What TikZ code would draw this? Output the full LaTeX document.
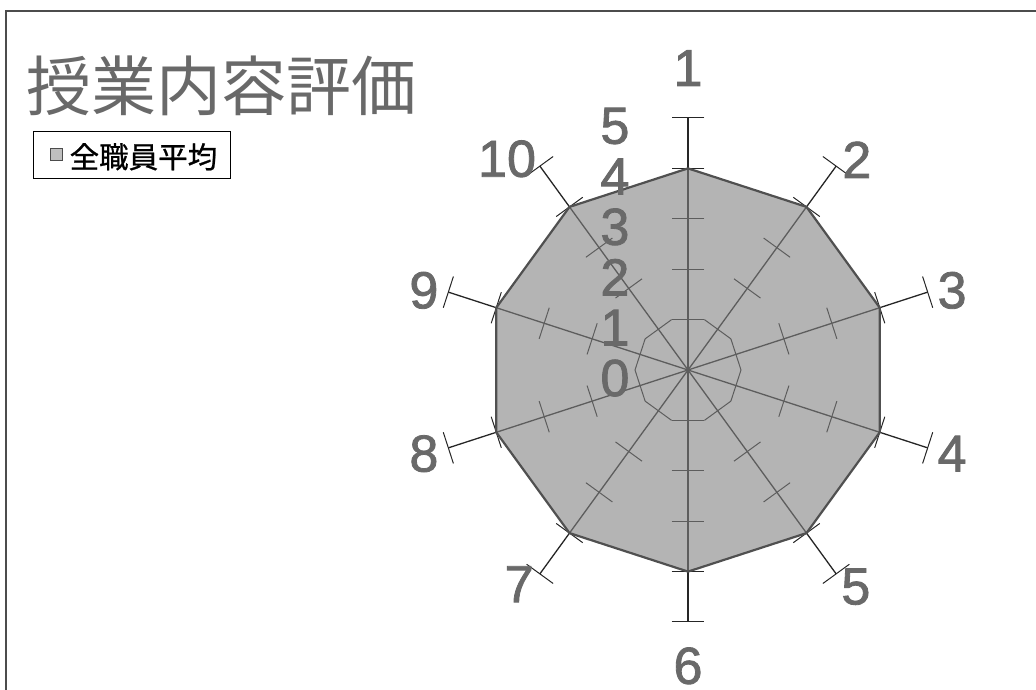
\documentclass[tikz,border=0pt]{standalone}
\usepackage{fontspec}
\setmainfont{Liberation Sans}
\newfontfamily\jpfont{Noto Sans CJK JP}
\newfontfamily\jplegend[FakeBold=0.8]{Noto Sans CJK JP}
\newfontfamily\numfont[FakeBold=1.6]{Liberation Sans}
\definecolor{areagray}{RGB}{130,130,130}
\definecolor{edgegray}{RGB}{80,80,80}
\definecolor{textgray}{RGB}{105,105,105}
\tikzset{
axisline/.style={line width=1.3pt,black!85},
tickline/.style={line width=1pt,black!85},
numlabel/.style={text=textgray,inner sep=0pt,font=\numfont\fontsize{52}{52}\selectfont},
}
\begin{document}
\begin{tikzpicture}[x=1pt,y=1pt]
\useasboundingbox (0,0) rectangle (1036,690);
\draw[line width=2pt,black!70] (6,0) -- (6,679) -- (1036,679);
\node[anchor=base west,inner sep=0pt,text=textgray,font=\jpfont\fontsize{65}{65}\selectfont] (title) at (26,579) {授業内容評価};
\node[draw,line width=1pt,minimum width=197pt,minimum height=47pt] (legend) at (131.5,534.5) {};
\node[draw=black!70,fill=black!25,minimum size=12pt,inner sep=0pt] (mark) at (56,536) {};
\node[anchor=base west,inner sep=0pt,font=\jplegend\fontsize{29.5}{30}\selectfont] (legendtext) at (69.5,522) {全職員平均};
\begin{scope}[shift={(688pt,320pt)},x=50.4pt,y=50.4pt]
\coordinate (O) at (0,0);
\foreach \k in {1,...,10}{
\pgfmathsetmacro\a{90-36*(\k-1)}
\draw[axisline,rotate=\a] (O) -- (5,0);
\foreach \v in {1,...,5}{
\draw[tickline,rotate=\a] (\v,-.325) -- (\v,.325);
}
}
\filldraw[fill=areagray,fill opacity=.6,draw=edgegray,line width=2.2pt,line join=round] (90:4) \foreach \k in {1,...,9}{ -- (90-36*\k:4)} -- cycle;
\foreach \v in {0,...,5}{
\node[numlabel] (val\v) at (-1.45,\v-.16) {\v};
}
\foreach \k/\px/\py in {1/0/5.99,2/3.35/4.17,3/5.24/1.58,4/5.24/-1.66,5/3.33/-4.30,6/0/-5.87,7/-3.35/-4.25,8/-5.24/-1.66,9/-5.24/1.58,10/-3.59/4.19}{
\node[numlabel] (lab\k) at (\px,\py) {\k};
}
\end{scope}
\end{tikzpicture}
\end{document}
